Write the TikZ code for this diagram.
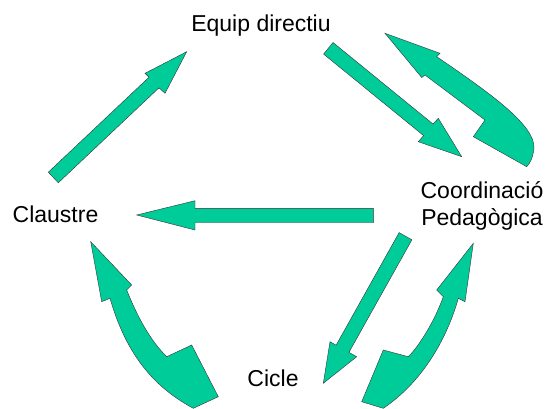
\documentclass[tikz,border=0pt]{standalone}
\usepackage{fontspec}
\setmainfont{Liberation Sans}
\usepackage{tikz}
\usepackage{xcolor}

\definecolor{fletxa}{RGB}{0,204,153}

\begin{document}
\begin{tikzpicture}[x=1pt,y=-1pt,
        txt/.style={font=\fontsize{23}{27}\selectfont,inner sep=0pt,anchor=base},
        blockarrow/.style={fill=fletxa,draw=black!80,line width=0.4pt,line join=miter}]
                \useasboundingbox (0,0) rectangle (546,408);

                \node (ed) at (261,31) [txt] {Equip directiu};
                \node (cl) at (55.5,222) [txt] {Claustre};
                \node (cp) at (482,198) [txt] {Coordinació};
                \node (cp2) at (482,225) [txt] {Pedagògica};
                \node (ci) at (273,386) [txt] {Cicle};

                % claustre -> equip directiu
                \draw[blockarrow] (48.3,172.2) -- (149,77.2) -- (145,73.3) -- (186.7,51.7)
                    -- (165,93.3) -- (159,87.8) -- (58.3,182.8) -- cycle;
                % equip directiu -> coordinacio
                \draw[blockarrow] (333,42.5) -- (433,124) -- (438.3,118.3) -- (461.7,156.7)
                    -- (418.3,141.7) -- (423.6,135.6) -- (323.6,54.1) -- cycle;
                % coordinacio -> equip directiu
                \draw[blockarrow] (385,33.3) -- (440,53.3) -- (436.7,56.7)
                    .. controls (490,93) and (535,125) .. (534,148)
                    .. controls (533,158) and (530,163) .. (526.7,166.7)
                    -- (473.3,136.7) -- (485,120) -- (425,75) -- (421.7,77.5) -- cycle;
                % coordinacio -> claustre
                \draw[blockarrow] (373.3,208.3) -- (195,208.3) -- (195,200.7) -- (136.7,215)
                    -- (195,230) -- (195,222.7) -- (373.3,222.7) -- cycle;
                % coordinacio -> cicle
                \draw[blockarrow] (399.1,232.6) -- (336.1,345.2) -- (330,341.7) -- (323.3,383.3)
                    -- (356.7,356.7) -- (348.9,352.4) -- (411.9,239.8) -- cycle;
                % cicle -> coordinacio
                \draw[blockarrow] (473.3,243.3) -- (465,301.7) -- (458.3,298.3)
                    .. controls (448,335) and (425,380) .. (383.3,408.3)
                    -- (361.7,401.7) -- (383.3,350) -- (408.3,356.7)
                    .. controls (420,345) and (435,320) .. (443.3,296.7)
                    -- (436.7,290) -- cycle;
                % cicle -> claustre
                \draw[blockarrow] (90.7,241.7) -- (131.7,285) -- (126.7,290)
                    .. controls (138,318) and (150,340) .. (166.7,356.7)
                    -- (191.7,345) -- (218.3,396.7) -- (193.3,408.3)
                    .. controls (150,385) and (125,350) .. (110,298.3)
                    -- (101.7,301.7) -- cycle;

            \end{tikzpicture}
\end{document}
